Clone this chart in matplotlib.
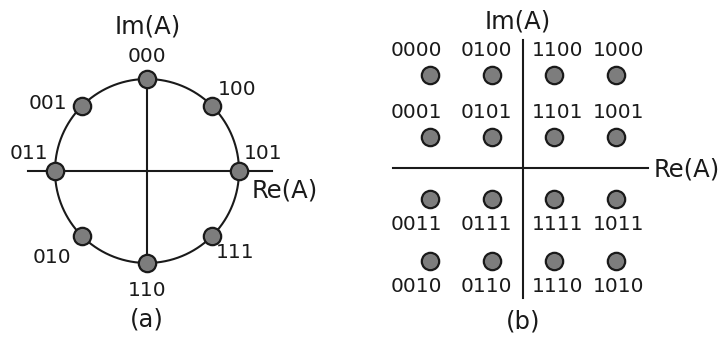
import numpy as np
import matplotlib.pyplot as plt

# (a) 8-PSK constellation: bit labels and phase angles (degrees)
psk_labels = ["000", "100", "101", "111", "110", "010", "011", "001"]
psk_angles = [90, 45, 0, -45, -90, -135, 180, 135]

# (b) 16-QAM constellation: in-phase / quadrature levels and bit labels
qam_levels_i = [-3, -1, 1, 3]
qam_levels_q = [3, 1, -1, -3]
qam_labels = [
    ["0000", "0100", "1100", "1000"],
    ["0001", "0101", "1101", "1001"],
    ["0011", "0111", "1111", "1011"],
    ["0010", "0110", "1110", "1010"],
]

W, H, DPI = 721, 341, 100
ink = "#1a1a1a"
dot_face = "#7d7d7d"
fs_bits = 14.5
fs_axis = 17.5

fig = plt.figure(figsize=(W / DPI, H / DPI), dpi=DPI)


def place_axes(x0, x1, cx, cy, scale):
    # axes spanning pixel columns x0..x1, full height, origin at pixel (cx, cy)
    ax = fig.add_axes([x0 / W, 0, (x1 - x0) / W, 1])
    ax.set_xlim((x0 - cx) / scale, (x1 - cx) / scale)
    ax.set_ylim((cy - H) / scale, cy / scale)
    ax.axis("off")
    return ax


# ---- (a) circle ----
s_a = 92.0
ax1 = place_axes(0, 360, 147, 171, s_a)
t = np.linspace(0, 2 * np.pi, 400)
ax1.plot(np.cos(t), np.sin(t), color=ink, lw=1.5)
ax1.plot([-119 / s_a, 125 / s_a], [0, 0], color=ink, lw=1.5)
ax1.plot([0, 0], [-1, 1], color=ink, lw=1.5)

ang = np.radians(psk_angles)
px, py = np.cos(ang), np.sin(ang)
ax1.plot(px, py, "o", ms=12.5, mfc=dot_face, mec=ink, mew=1.6, zorder=5)

# label offsets from each point, in pixels (right, down)
psk_off = [(0, -22), (25, -16), (24, -17), (23, 16), (0, 27), (-30, 21), (-26, -17), (-34, -2)]
for lab, x, y, (dx, dy) in zip(psk_labels, px, py, psk_off):
    ax1.text(x + dx / s_a, y - dy / s_a, lab, ha="center", va="center",
             fontsize=fs_bits, color=ink)
ax1.text(1 / s_a, 144 / s_a, "Im(A)", ha="center", va="center", fontsize=fs_axis, color=ink)
ax1.text(138 / s_a, -20 / s_a, "Re(A)", ha="center", va="center", fontsize=fs_axis, color=ink)
ax1.text(0, -149 / s_a, "(a)", ha="center", va="center", fontsize=fs_axis, color=ink)

# ---- (b) square grid ----
s_b = 31.0
ax2 = place_axes(360, 721, 523, 168, s_b)
ax2.plot([-130 / s_b, 125 / s_b], [0, 0], color=ink, lw=1.5)
ax2.plot([0, 0], [-130 / s_b, 128 / s_b], color=ink, lw=1.5)

gi, gq = np.meshgrid(qam_levels_i, qam_levels_q)
ax2.plot(gi.ravel(), gq.ravel(), "o", ms=12.5, mfc=dot_face, mec=ink, mew=1.6, zorder=5)

col_dx = [-14, -6, 4, 3]
for r, q in enumerate(qam_levels_q):
    dy = -24 if q > 0 else 25
    for c, i in enumerate(qam_levels_i):
        ax2.text(i + col_dx[c] / s_b, q - dy / s_b, qam_labels[r][c],
                 ha="center", va="center", fontsize=fs_bits, color=ink)
ax2.text(-5 / s_b, 146 / s_b, "Im(A)", ha="center", va="center", fontsize=fs_axis, color=ink)
ax2.text(131 / s_b, -2 / s_b, "Re(A)", ha="left", va="center", fontsize=fs_axis, color=ink)
ax2.text(0, -154 / s_b, "(b)", ha="center", va="center", fontsize=fs_axis, color=ink)

fig.savefig("out.png", dpi=DPI)
